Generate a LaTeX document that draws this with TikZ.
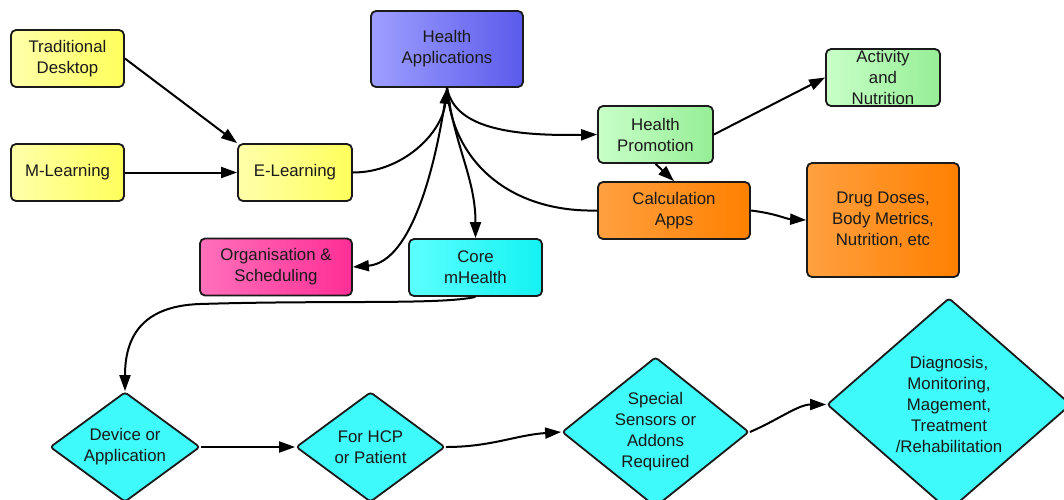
\documentclass[tikz,border=0pt]{standalone}
\usepackage{fontspec}
\setmainfont{Liberation Sans}
\usetikzlibrary{arrows.meta,shapes.geometric}
\definecolor{edgecol}{HTML}{1A1A1A}
\definecolor{textcol}{HTML}{1A1A1A}
\definecolor{yelL}{HTML}{FFFFAA}
\definecolor{yelR}{HTML}{FFFF5C}
\definecolor{bluL}{HTML}{9E9EFF}
\definecolor{bluR}{HTML}{5B5BEC}
\definecolor{pnkL}{HTML}{FF70BA}
\definecolor{pnkR}{HTML}{FF2E96}
\definecolor{cyaL}{HTML}{5CFFFF}
\definecolor{cyaR}{HTML}{14F2F2}
\definecolor{grnL}{HTML}{C8FFC8}
\definecolor{grnR}{HTML}{96EE96}
\definecolor{orgL}{HTML}{FFA040}
\definecolor{orgR}{HTML}{FF8000}
\definecolor{dia}{HTML}{3FFAFA}
\tikzset{
  box/.style={draw=edgecol, line width=1.8pt, rounded corners=5pt, inner sep=1pt,
    align=center, font=\fontsize{16.8}{21}\selectfont, text=textcol},
  yel/.style={box, left color=yelL, right color=yelR},
  blu/.style={box, left color=bluL, right color=bluR},
  pnk/.style={box, left color=pnkL, right color=pnkR},
  cya/.style={box, left color=cyaL, right color=cyaR},
  grn/.style={box, left color=grnL, right color=grnR},
  org/.style={box, left color=orgL, right color=orgR},
  dmd/.style={diamond, draw=edgecol, line width=1.8pt, rounded corners=3pt, inner sep=0pt,
    fill=dia, align=center, font=\fontsize{16.8}{21}\selectfont, text=textcol},
  conn/.style={line width=2pt, draw=black, -{Triangle[length=16pt,width=11pt]}},
  plain/.style={line width=2pt, draw=black}
}
\begin{document}
\begin{tikzpicture}[x=1pt,y=-1pt]
\useasboundingbox (0,0) rectangle (1064,499);
\clip (0,0) rectangle (1064,499);
\fill[white] (0,0) rectangle (1064,499);

% boxes
\node[yel, minimum width=113pt, minimum height=57pt] (td) at (67.5,58.5) {Traditional\\Desktop};
\node[yel, minimum width=113pt, minimum height=57pt] (ml) at (67.5,172.5) {M-Learning};
\node[yel, minimum width=114pt, minimum height=57pt] (el) at (295,172.5) {E-Learning};
\node[blu, minimum width=152pt, minimum height=76pt] (ha) at (447,49) {Health\\Applications};
\node[pnk, minimum width=152pt, minimum height=57pt] (os) at (276,267) {Organisation \&\\Scheduling};
\node[cya, minimum width=133pt, minimum height=57pt] (cm) at (475.5,267.5) {Core\\mHealth};
\node[grn, minimum width=115pt, minimum height=57pt] (hp) at (655.5,134.5) {Health\\Promotion};
\node[grn, minimum width=114pt, minimum height=57pt] (an) at (883,77.5) {Activity\\and\\Nutrition};
\node[org, minimum width=152pt, minimum height=57pt] (ca) at (674,210.5) {Calculation\\Apps};
\node[org, minimum width=152pt, minimum height=114pt] (dd) at (883,220) {Drug Doses,\\Body Metrics,\\Nutrition, etc};

% diamonds
\node[dmd, aspect=1.36, minimum width=150pt, minimum height=110pt] (dv) at (125,447) {Device or\\Application};
\node[dmd, aspect=1.36, minimum width=149pt, minimum height=110pt] (hc) at (370.5,447) {For HCP\\or Patient};
\node[dmd, aspect=1.25, minimum width=187pt, minimum height=150pt] (ss) at (655.5,432) {Special\\Sensors or\\Addons\\Required};
\node[dmd, aspect=1.146, minimum width=244pt, minimum height=213pt] (dg) at (949,404.5) {Diagnosis,\\Monitoring,\\Magement,\\Treatment\\/Rehabilitation};

\coordinate (bend) at (200,304);

% connectors
\draw[conn] (td.east) -- (el.north west);
\draw[conn] (ml) -- (el);
\draw[conn] (el.east) .. controls +(50,0) and +(-5,45) .. (ha.south);
\draw[conn] (ha.south) .. controls +(-10,73) and +(60,-5) .. (os.east);
\draw[conn] (ha.south) .. controls +(8,60) and +(0,-60) .. (cm.north);
\draw[conn] (ha.south) .. controls +(7,36) and +(-98,2) .. (hp.west);
\draw[plain] (ha.south) .. controls +(5,73) and +(-88,2) .. (ca.west);
\draw[conn] (hp.east) -- (an.west);
\draw[conn] (hp.south) -- (ca.north);
\draw[conn] (ca.east) .. controls +(25,3) and +(-20,-1) .. (dd.west);
\draw[conn] (cm.south) .. controls +(-35,8) and +(130,-4) .. (bend)
  .. controls +(-60,2) and +(0,-52) .. (dv.north);
\draw[conn] (dv) -- (hc);
\draw[conn] (hc.east) .. controls +(45,0) and +(-45,3) .. (ss.west);
\draw[conn] (ss.east) .. controls +(28,-12) and +(-28,0) .. (dg.west);
\end{tikzpicture}
\end{document}
